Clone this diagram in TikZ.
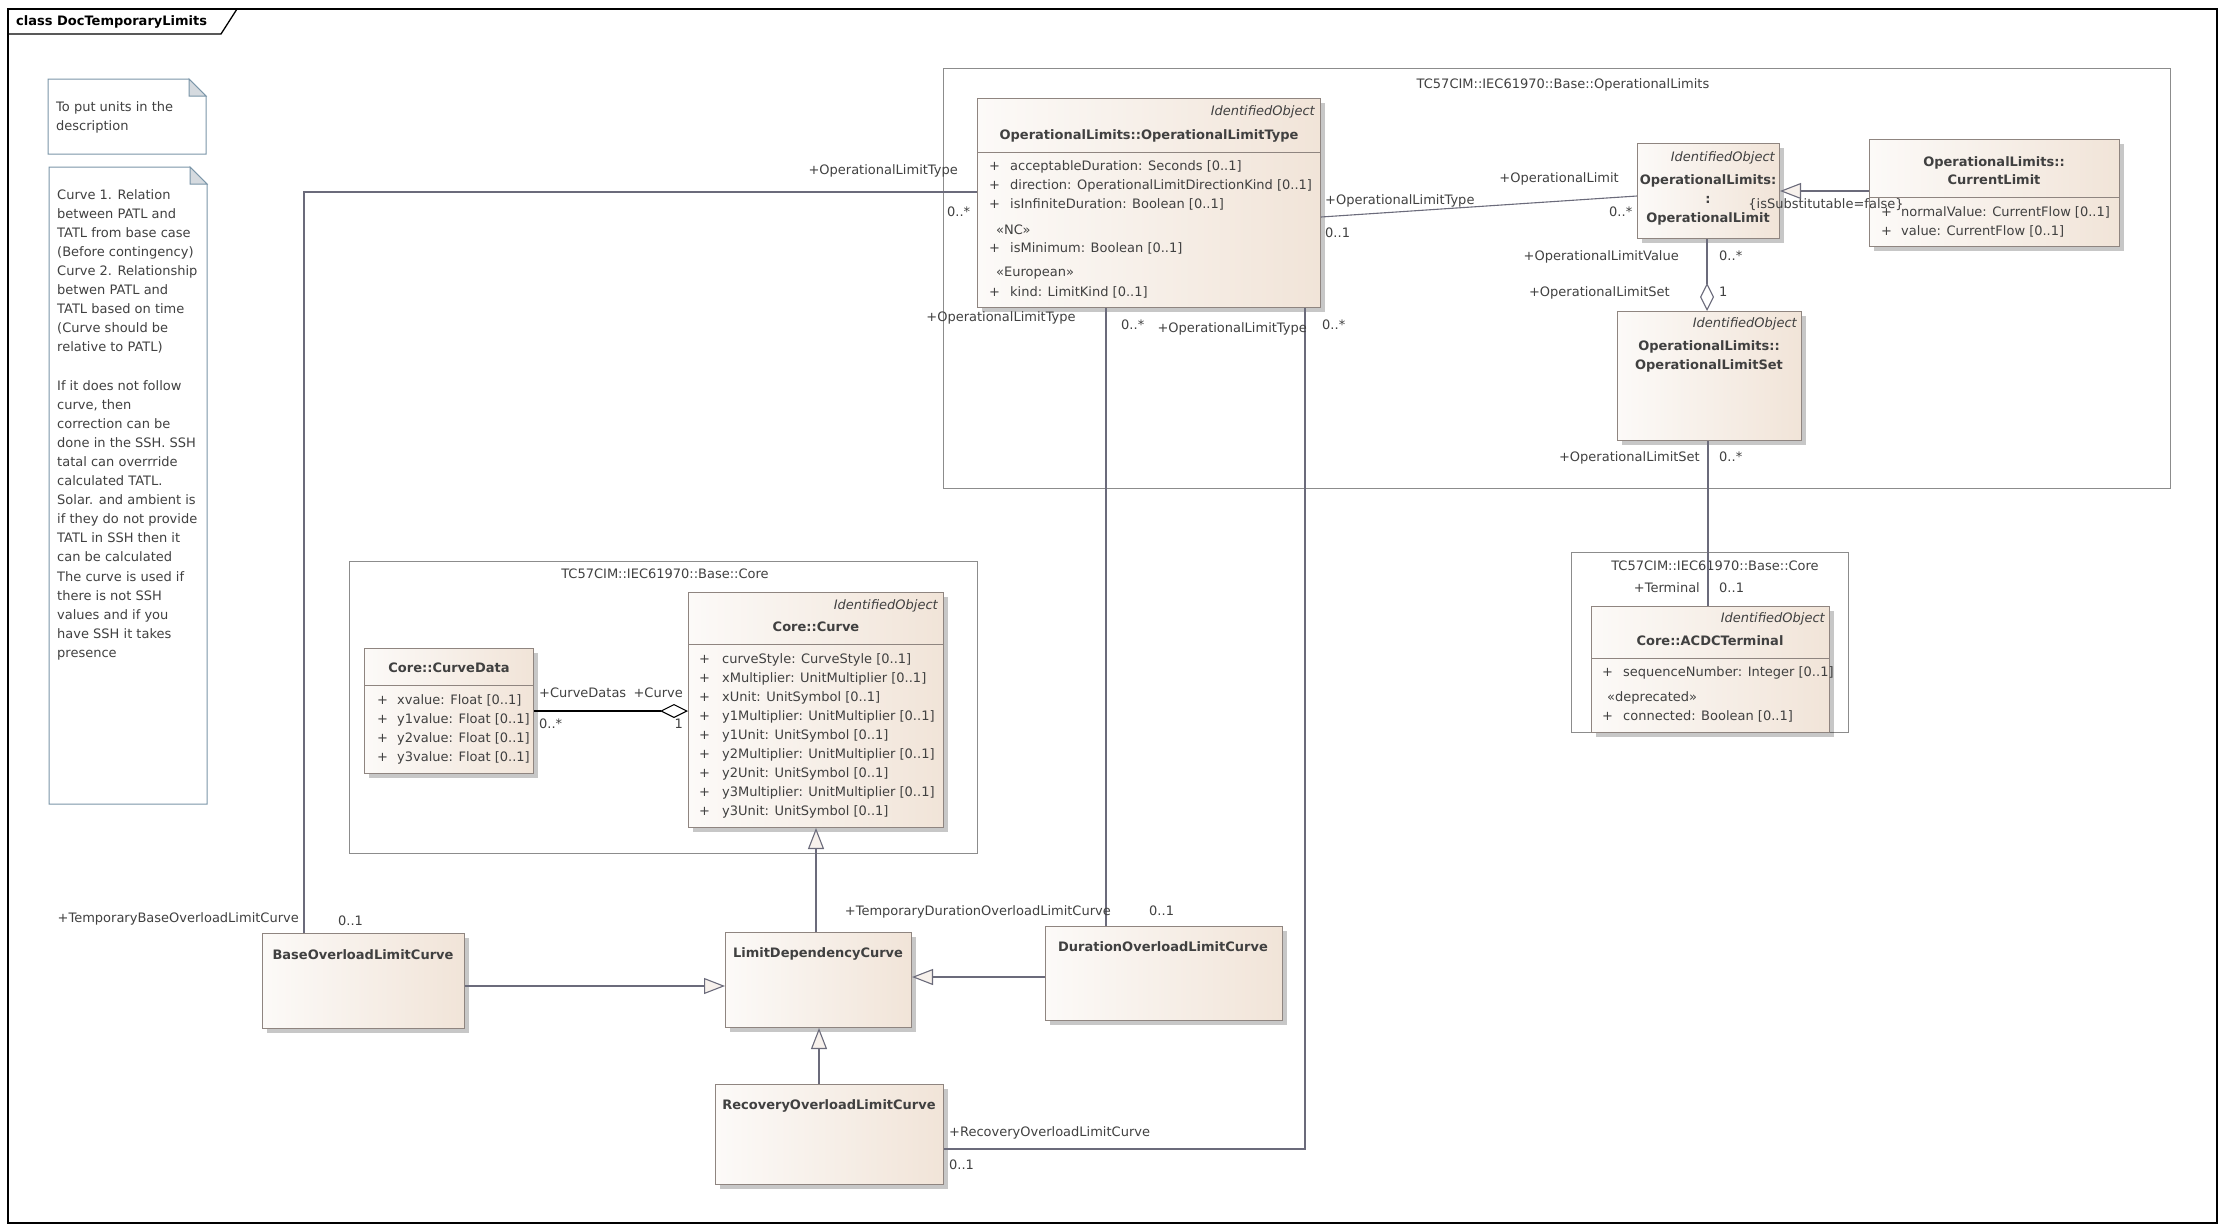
\documentclass[tikz,border=0pt]{standalone}
\usepackage{fontspec}
\setmainfont{DejaVu Sans}
\usetikzlibrary{arrows.meta,shadows}

\definecolor{txtC}{HTML}{404040}
\definecolor{lineC}{HTML}{6B6B7B}
\definecolor{boxC}{HTML}{8F8580}
\definecolor{boxL}{HTML}{FCFAF8}
\definecolor{boxR}{HTML}{F1E4D8}
\definecolor{pkgC}{HTML}{8C8C8C}
\definecolor{noteC}{HTML}{7A95A8}
\definecolor{foldC}{HTML}{D5DADF}
\definecolor{triC}{HTML}{F7F1EC}

\tikzset{
  cls/.style={draw=boxC, line width=1pt, left color=boxL, right color=boxR, anchor=north west, inner sep=0pt,
    drop shadow={shadow xshift=4pt, shadow yshift=-4pt, fill=black, opacity=0.22}},
  pkg/.style={draw=pkgC, line width=1pt, anchor=north west, inner sep=0pt},
  txt/.style={font=\fontsize{13}{16}\selectfont, text=txtC, inner sep=0pt, text height=9.5pt, text depth=0pt},
  ttl/.style={txt, font=\fontsize{13}{16}\selectfont\bfseries},
  stereo/.style={txt, font=\fontsize{13}{16}\selectfont\itshape, anchor=east},
  notetxt/.style={font=\fontsize{13}{19.1}\selectfont, text=txtC, inner sep=0pt, align=left, anchor=north west},
  assoc/.style={draw=lineC, line width=1.1pt},
  gen/.style={assoc, -{Triangle[length=21pt, width=16pt, fill=triC]}},
  agg/.style={assoc, -{Diamond[length=28pt, width=14pt, fill=white]}},
  sep/.style={draw=boxC, line width=1pt}
}

\begin{document}
\begin{tikzpicture}[x=1pt, y=-1pt]
\useasboundingbox (0,0) rectangle (2226,1231);

% frame
\draw[black, line width=1.3pt] (8,9) rectangle (2217,1223);
\draw[black, line width=1.3pt] (8,34) -- (221,34) -- (237,9);
\node[ttl, text=black, anchor=west] (title) at (16,21) {class DocTemporaryLimits};

% notes
\draw[noteC, line width=1pt, fill=white] (48,79) -- (189,79) -- (206,96) -- (206,154) -- (48,154) -- cycle;
\draw[noteC, line width=1pt, fill=foldC] (189,79) -- (189,96) -- (206,96) -- cycle;
\node[notetxt] (note1) at (56,101) {To put units in the\\description};
\draw[noteC, line width=1pt, fill=white] (49,167) -- (190,167) -- (207,184) -- (207,804) -- (49,804) -- cycle;
\draw[noteC, line width=1pt, fill=foldC] (190,167) -- (190,184) -- (207,184) -- cycle;
\node[notetxt] (note2) at (57,189) {Curve 1. Relation\\between PATL and\\TATL from base case\\(Before contingency)\\Curve 2. Relationship\\betwen PATL and\\TATL based on time\\(Curve should be\\relative to PATL)\\[19.1pt]If it does not follow\\curve, then\\correction can be\\done in the SSH. SSH\\tatal can overrride\\calculated TATL.\\Solar. and ambient is\\if they do not provide\\TATL in SSH then it\\can be calculated\\The curve is used if\\there is not SSH\\values and if you\\have SSH it takes\\presence};

% packages
\node[pkg, minimum width=1227pt, minimum height=420pt] (pkgOL) at (943,68) {};
\node[txt] (pkgOLlbl) at (1563,84) {TC57CIM::IEC61970::Base::OperationalLimits};
\node[pkg, minimum width=628pt, minimum height=292pt] (pkgCore) at (349,561) {};
\node[txt] (pkgCorelbl) at (665,574) {TC57CIM::IEC61970::Base::Core};
\node[pkg, minimum width=277pt, minimum height=180pt] (pkgTerm) at (1571,552) {};
\node[txt] (pkgTermlbl) at (1715,566) {TC57CIM::IEC61970::Base::Core};

% OperationalLimitType
\node[cls, minimum width=343pt, minimum height=209pt] (olt) at (977,98) {};
\node[stereo] (oltst) at (1315,111) {IdentifiedObject};
\node[ttl] (oltname) at (1149,135) {OperationalLimits::OperationalLimitType};
\draw[sep] (olt.west |- 0,152) -- (olt.east |- 0,152);
\foreach \y/\t [count=\i] in {166/acceptableDuration: Seconds [0..1], 185/direction: OperationalLimitDirectionKind [0..1], 204/isInfiniteDuration: Boolean [0..1], 248/isMinimum: Boolean [0..1], 292/kind: LimitKind [0..1]}{
  \node[txt, anchor=west] (oltp\i) at (989,\y) {+};
  \node[txt, anchor=west] (olta\i) at (1010,\y) {\t};
}
\node[txt, anchor=west] (oltnc) at (996,230) {«NC»};
\node[txt, anchor=west] (olteu) at (996,272) {«European»};

% OperationalLimit
\node[cls, minimum width=142pt, minimum height=95pt] (ol) at (1637,143) {};
\node[stereo] (olst) at (1775,157) {IdentifiedObject};
\node[ttl] (olname1) at (1708,180) {OperationalLimits:};
\node[ttl] (olname2) at (1708,199) {:};
\node[ttl] (olname3) at (1708,218) {OperationalLimit};

% CurrentLimit
\node[cls, minimum width=250pt, minimum height=107pt] (cl) at (1869,139) {};
\node[ttl] (clname1) at (1994,162) {OperationalLimits::};
\node[ttl] (clname2) at (1994,180) {CurrentLimit};
\draw[sep] (cl.west |- 0,197) -- (cl.east |- 0,197);
\node[txt, anchor=west] (clp1) at (1881,212) {+};
\node[txt, anchor=west] (cla1) at (1901,212) {normalValue: CurrentFlow [0..1]};
\node[txt, anchor=west] (clp2) at (1881,231) {+};
\node[txt, anchor=west] (cla2) at (1901,231) {value: CurrentFlow [0..1]};

% OperationalLimitSet
\node[cls, minimum width=184pt, minimum height=129pt] (ols) at (1617,311) {};
\node[stereo] (olsst) at (1797,323) {IdentifiedObject};
\node[ttl] (olsname1) at (1709,346) {OperationalLimits::};
\node[ttl] (olsname2) at (1709,365) {OperationalLimitSet};

% ACDCTerminal
\node[cls, minimum width=238pt, minimum height=126pt] (acdc) at (1591,606) {};
\node[stereo] (acdcst) at (1825,618) {IdentifiedObject};
\node[ttl] (acdcname) at (1710,641) {Core::ACDCTerminal};
\draw[sep] (acdc.west |- 0,658) -- (acdc.east |- 0,658);
\node[txt, anchor=west] (acdcp1) at (1602,672) {+};
\node[txt, anchor=west] (acdca1) at (1623,672) {sequenceNumber: Integer [0..1]};
\node[txt, anchor=west] (acdcdep) at (1607,697) {«deprecated»};
\node[txt, anchor=west] (acdcp2) at (1602,716) {+};
\node[txt, anchor=west] (acdca2) at (1623,716) {connected: Boolean [0..1]};

% CurveData
\node[cls, minimum width=169pt, minimum height=125pt] (cdata) at (364,648) {};
\node[ttl] (cdataname) at (449,668) {Core::CurveData};
\draw[sep] (cdata.west |- 0,685) -- (cdata.east |- 0,685);
\foreach \t [count=\i] in {xvalue, y1value, y2value, y3value}{
  \node[txt, anchor=west] (cdp\i) at (377,681+19*\i) {+};
  \node[txt, anchor=west] (cda\i) at (397,681+19*\i) {\t: Float [0..1]};
}

% Curve
\node[cls, minimum width=255pt, minimum height=235pt] (curve) at (688,592) {};
\node[stereo] (curvest) at (938,605) {IdentifiedObject};
\node[ttl] (curvename) at (816,627) {Core::Curve};
\draw[sep] (curve.west |- 0,644) -- (curve.east |- 0,644);
\foreach \t [count=\i] in {curveStyle: CurveStyle [0..1], xMultiplier: UnitMultiplier [0..1], xUnit: UnitSymbol [0..1], y1Multiplier: UnitMultiplier [0..1], y1Unit: UnitSymbol [0..1], y2Multiplier: UnitMultiplier [0..1], y2Unit: UnitSymbol [0..1], y3Multiplier: UnitMultiplier [0..1], y3Unit: UnitSymbol [0..1]}{
  \node[txt, anchor=west] (cvp\i) at (699,640+19*\i) {+};
  \node[txt, anchor=west] (cva\i) at (722,640+19*\i) {\t};
}

% curve classes
\node[cls, minimum width=202pt, minimum height=95pt] (base) at (262,933) {};
\node[ttl] (basename) at (363,955) {BaseOverloadLimitCurve};
\node[cls, minimum width=186pt, minimum height=95pt] (ldc) at (725,932) {};
\node[ttl] (ldcname) at (818,953) {LimitDependencyCurve};
\node[cls, minimum width=237pt, minimum height=94pt] (dur) at (1045,926) {};
\node[ttl] (durname) at (1163,947) {DurationOverloadLimitCurve};
\node[cls, minimum width=228pt, minimum height=100pt] (rec) at (715,1084) {};
\node[ttl] (recname) at (829,1105) {RecoveryOverloadLimitCurve};

% associations
\draw[assoc] (base.north -| 304,0) |- (olt.west |- 0,192);
\draw[assoc] (dur.north -| 1106,0) -- (olt.south -| 1106,0);
\draw[assoc] (rec.east |- 0,1149) -| (olt.south -| 1305,0);
\draw[assoc] (olt.east |- 0,217) -- (ol.west |- 0,196);
\draw[assoc] (ols.south -| 1708,0) -- (acdc.north -| 1708,0);
\draw[agg] (ol.south -| 1707,0) -- (ols.north -| 1707,0);
\draw[agg, draw=black] (cdata.east |- 0,711) -- (curve.west |- 0,711);

% generalisations
\draw[gen] (cl.west |- 0,191) -- (ol.east |- 0,191);
\draw[gen] (ldc.north -| 816,0) -- (curve.south -| 816,0);
\draw[gen] (base.east |- 0,986) -- (ldc.west |- 0,986);
\draw[gen] (dur.west |- 0,977) -- (ldc.east |- 0,977);
\draw[gen] (rec.north -| 819,0) -- (ldc.south -| 819,0);

% role names and multiplicities
\node[txt, anchor=east] (r1) at (299,918) {+TemporaryBaseOverloadLimitCurve};
\node[txt, anchor=west] (m1) at (338,921) {0..1};
\node[txt, anchor=east] (r2) at (958,170) {+OperationalLimitType};
\node[txt, anchor=west] (m2) at (947,212) {0..*};
\node[txt, anchor=east] (r3) at (1111,911) {+TemporaryDurationOverloadLimitCurve};
\node[txt, anchor=west] (m3) at (1149,911) {0..1};
\node[txt] (r4) at (1001,317) {+OperationalLimitType};
\node[txt, anchor=west] (m4) at (1121,325) {0..*};
\node[txt, anchor=east] (r5) at (1307,328) {+OperationalLimitType};
\node[txt, anchor=west] (m5) at (1322,325) {0..*};
\node[txt, anchor=west] (r6) at (949,1132) {+RecoveryOverloadLimitCurve};
\node[txt, anchor=west] (m6) at (949,1165) {0..1};
\node[txt, anchor=west] (r7) at (1325,200) {+OperationalLimitType};
\node[txt, anchor=west] (m7) at (1325,233) {0..1};
\node[txt, anchor=east] (r8) at (1619,178) {+OperationalLimit};
\node[txt, anchor=west] (m8) at (1609,212) {0..*};
\node[txt] (constr) at (1826,204) {\{isSubstitutable=false\}};
\node[txt, anchor=east] (r9) at (1679,256) {+OperationalLimitValue};
\node[txt, anchor=west] (m9) at (1719,256) {0..*};
\node[txt, anchor=east] (r10) at (1670,292) {+OperationalLimitSet};
\node[txt, anchor=west] (m10) at (1719,292) {1};
\node[txt, anchor=east] (r11) at (1700,457) {+OperationalLimitSet};
\node[txt, anchor=west] (m11) at (1719,457) {0..*};
\node[txt, anchor=east] (r12) at (1700,588) {+Terminal};
\node[txt, anchor=west] (m12) at (1719,588) {0..1};
\node[txt, anchor=west] (r13) at (539,693) {+CurveDatas};
\node[txt, anchor=east] (r14) at (683,693) {+Curve};
\node[txt, anchor=west] (m13) at (539,724) {0..*};
\node[txt, anchor=east] (m14) at (683,724) {1};
\end{tikzpicture}
\end{document}
